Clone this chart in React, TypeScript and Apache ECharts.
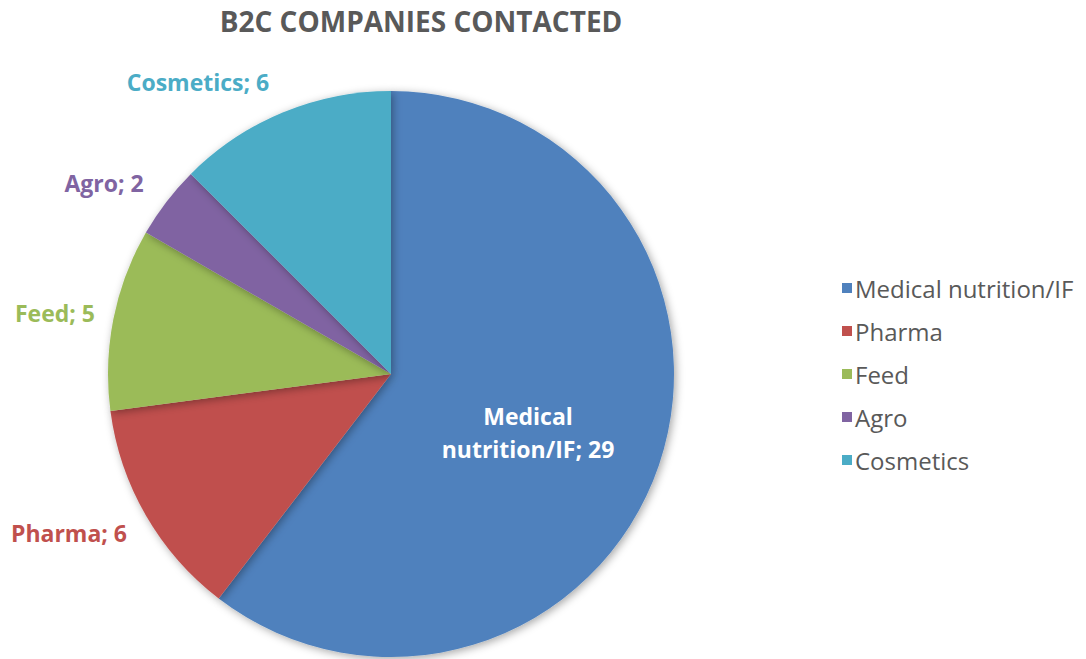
import React, { useEffect, useRef } from "react";
import * as echarts from "echarts";

const categories = ["Medical nutrition/IF", "Pharma", "Feed", "Agro", "Cosmetics"];
const values = [29, 6, 5, 2, 6];
const colors = ["#4F81BD", "#C0504D", "#9BBB59", "#8064A2", "#4BACC6"];
const titleText = "B2C COMPANIES CONTACTED";

// label placement (layout only)
const labelPos: { x: number; y: number }[] = [
  { x: 528, y: 432 },
  { x: 69, y: 533 },
  { x: 55, y: 313 },
  { x: 104, y: 183 },
  { x: 198, y: 82 },
];

export default function App() {
  const ref = useRef<HTMLDivElement>(null);
  useEffect(() => {
    if (!ref.current) return;
    const chart = echarts.init(ref.current, undefined, { renderer: "svg" });
    const font = "'Open Sans', sans-serif";
    chart.setOption({
      animation: false,
      backgroundColor: "#ffffff",
      title: {
        text: titleText,
        top: 2,
        left: 416,
        textAlign: "center",
        textStyle: { fontFamily: font, fontSize: 28, fontWeight: "bold", color: "#595959" },
      },
      legend: {
        orient: "vertical",
        left: 842,
        top: 276,
        padding: 0,
        itemWidth: 10,
        itemHeight: 10,
        itemGap: 19,
        icon: "rect",
        data: categories,
        textStyle: { fontFamily: font, fontSize: 24, color: "#595959", lineHeight: 24, padding: [0, 0, 0, -2] },
      },
      series: [
        {
          type: "pie",
          center: [391, 374],
          radius: [0, 283],
          startAngle: 90,
          clockwise: true,
          data: categories.map((c, i) => ({
            name: c,
            value: values[i],
            itemStyle: { color: colors[i] },
            label: {
              color: i === 0 ? "#ffffff" : colors[i],
              position: i === 0 ? "inside" : "outside",
            },
          })),
          itemStyle: {
            shadowBlur: 8,
            shadowColor: "rgba(0,0,0,0.35)",
            shadowOffsetX: 2,
            shadowOffsetY: 2,
          },
          label: {
            show: true,
            fontFamily: font,
            fontSize: 23,
            fontWeight: "bold",
            lineHeight: 33,
            overflow: "none",
            formatter: (p: any) =>
              p.dataIndex === 0 ? "Medical\nnutrition/IF; " + p.value : p.name + "; " + p.value,
          },
          labelLine: { show: false },
          labelLayout: (p: any) => ({
            x: labelPos[p.dataIndex].x,
            y: labelPos[p.dataIndex].y,
            align: "center",
            verticalAlign: "middle",
            hideOverlap: false,
          }),
        },
      ],
    });
    return () => chart.dispose();
  }, []);
  return (
    <div
      ref={ref}
      style={{ position: "absolute", left: 0, top: 0, width: 1086, height: 659 }}
    />
  );
}
